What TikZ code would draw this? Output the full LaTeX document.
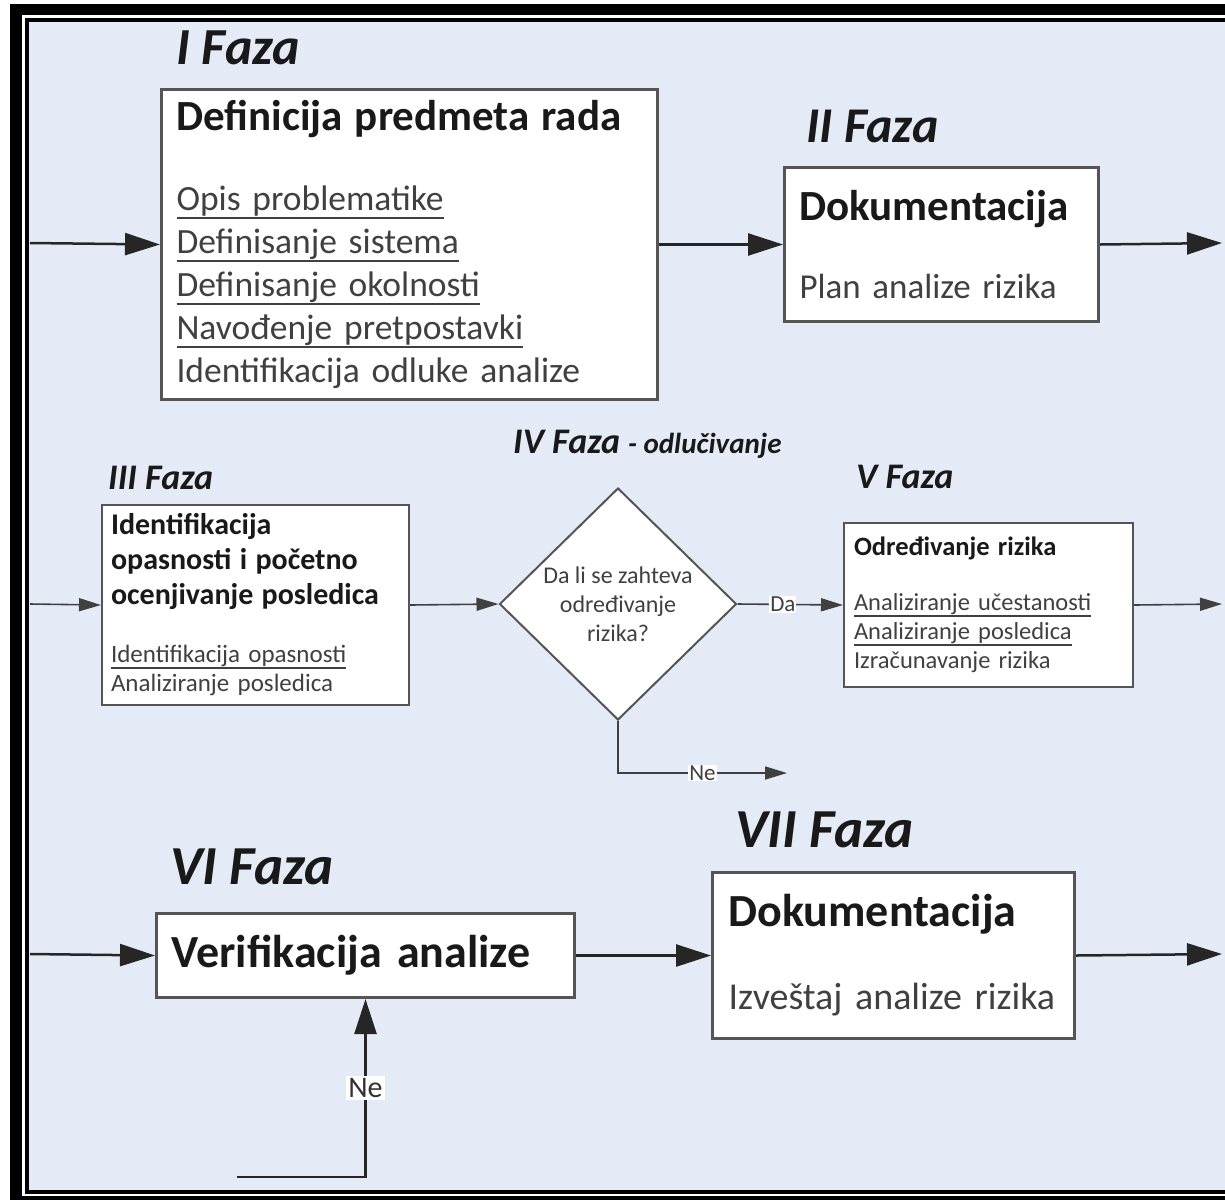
\documentclass[tikz,border=0pt]{standalone}
\usepackage{fontspec}
\setmainfont{Carlito}
\usetikzlibrary{arrows.meta,positioning,shapes.geometric}
\definecolor{bgblue}{RGB}{229,235,246}
\definecolor{boxline}{RGB}{85,85,85}
\definecolor{txtgray}{RGB}{64,64,64}
\newcommand{\fs}[2]{\fontsize{#1}{#2}\selectfont}
\newcommand{\undl}[1]{\leavevmode\setbox0\hbox{#1}\rlap{\rule[-0.24em]{\wd0}{0.06em}}\box0}
\tikzset{box/.style={draw=boxline, fill=white, line width=3pt, rectangle, anchor=north west,
                     align=left, inner ysep=0pt, text=txtgray},
         phase/.style={font=\bfseries\itshape\fs{#1}{#1}, anchor=base west, inner sep=0pt, text=black!90},
         flow/.style={draw=black!85, line width=2.5pt, -{Triangle[length=35pt,width=22pt]}},
         thinflow/.style={draw=black!75, line width=1.6pt, -{Triangle[length=22pt,width=13pt]}},
         yesno/.style={fill=white, inner sep=1pt, text=txtgray, font=\fs{23}{24}}
}

\begin{document}
\begin{tikzpicture}[x=1pt,y=-1pt]
  \useasboundingbox (0,0) rectangle (1225,1200);
  % double frame
  \fill[white] (0,0) rectangle (1225,1200);
  \fill[black] (10,4) rectangle (1225,1200);
  \fill[white] (22,15) rectangle (1225,1196);
  \fill[black] (25,18) rectangle (1225,1194);
  \fill[bgblue] (29,22) rectangle (1225,1190);

  % I and II
  \node[phase=52] (ph1) at (176,64) {I Faza};
  \node[box, minimum width=496pt, minimum height=310pt, text width=466pt, inner xsep=15pt,
        font=\fs{35.5}{43}] (def) at (160,88)
       {{\color{black!90}\bfseries\fs{43}{43}Definicija predmeta rada}\\[37pt]
        \undl{Opis problematike}\\
        \undl{Definisanje sistema}\\
        \undl{Definisanje okolnosti}\\
        \undl{Navođenje pretpostavki}\\
        Identifikacija odluke analize};
  \node[phase=50] (ph2) at (806,142) {II Faza};
  \node[box, minimum width=314pt, minimum height=154pt, text width=284pt, inner xsep=15pt,
        font=\fs{35}{38}] (doc1) at (783,166)
       {{\color{black!90}\bfseries\fs{43}{38}Dokumentacija}\\[40pt]
        Plan analize rizika};

  % III, IV, V
  \node[phase=36] (ph3) at (108,489) {III Faza};
  \node[box, line width=2pt, minimum width=307pt, minimum height=200pt, text width=289pt, inner xsep=9pt,
        font=\fs{25}{29}] (haz) at (101,504)
       {{\color{black!90}\bfseries\fs{30}{29}Identifikacija}\\[6pt]
        {\color{black!90}\bfseries\fs{30}{29}opasnosti i početno}\\[6pt]
        {\color{black!90}\bfseries\fs{30}{29}ocenjivanje posledica}\\[29pt]
        \undl{Identifikacija opasnosti}\\
        Analiziranje posledica};
  \node[phase=36] (ph4) at (513,453) {IV Faza {\fs{29}{29}- odlučivanje}};
  \node[diamond, draw=boxline, fill=white, line width=2pt, minimum width=237pt, minimum height=232pt,
        inner sep=0pt, align=center, font=\fs{24}{29}, text=txtgray] (dec) at (618,604)
       {Da li se zahteva\\ određivanje\\ rizika?};
  \node[phase=36] (ph5) at (856,488) {V Faza};
  \node[box, line width=2pt, minimum width=289pt, minimum height=164pt, text width=269pt, inner xsep=10pt,
        font=\fs{24.5}{29}] (risk) at (843,522)
       {{\color{black!90}\bfseries\fs{26.5}{29}Određivanje rizika}\\[26pt]
        \undl{Analiziranje učestanosti}\\
        \undl{Analiziranje posledica}\\
        Izračunavanje rizika};

  % VI and VII
  \node[phase=55] (ph6) at (170,884) {VI Faza};
  \node[box, minimum width=418pt, minimum height=84pt, text width=388pt, inner xsep=15pt,
        font=\bfseries\fs{46}{50}, text=black!90] (ver) at (155,912) {Verifikacija analize};
  \node[phase=55] (ph7) at (735,847) {VII Faza};
  \node[box, minimum width=362pt, minimum height=166pt, text width=330pt, inner xsep=16pt,
        font=\fs{38}{40}] (doc2) at (711,871)
       {{\color{black!90}\bfseries\fs{46}{40}Dokumentacija}\\[43pt]
        Izveštaj analize rizika};

  % connectors
  \coordinate (in1) at (30,243);
  \coordinate (out1) at (1222,243);
  \draw[flow] (in1) -- (def.west);
  \draw[flow] (def.east) -- (doc1.west);
  \draw[flow] (doc1.east) -- (out1);

  \coordinate (in2) at (30,604);
  \coordinate (out2) at (1222,604);
  \coordinate (ne1) at (787,773);
  \draw[thinflow] (in2) -- (haz.west);
  \draw[thinflow] (haz.east) -- (dec.west);
  \draw[thinflow] (dec.east) -- node[yesno, pos=0.43] {Da} (risk.west);
  \draw[thinflow] (dec.south) |- node[yesno, pos=0.75] {Ne} (ne1);
  \draw[thinflow] (risk.east) -- (out2);

  \coordinate (in3) at (30,954);
  \coordinate (out3) at (1222,954);
  \coordinate (ne2) at (237,1177);
  \draw[flow] (in3) -- (ver.west);
  \draw[flow] (ver.east) -- (doc2.west);
  \draw[flow] (doc2.east) -- (out3);
  \draw[flow] (ne2) -| node[pos=0.75, fill=white, inner sep=2pt, font=\fs{30}{32}, text=black!80] {Ne} (ver.south);
\end{tikzpicture}
\end{document}
